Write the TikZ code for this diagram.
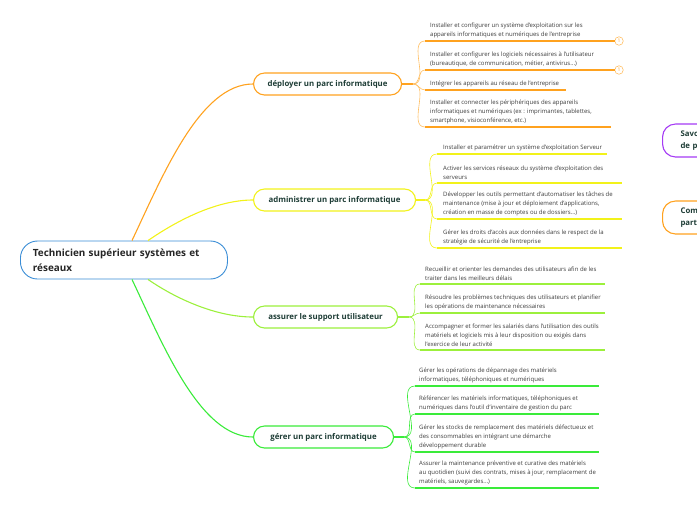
\documentclass[tikz,border=0pt]{standalone}
\usepackage{fontspec}
\setmainfont{Open Sans}
\usepackage{tikz}
\usetikzlibrary{positioning}
\usepackage{xcolor}
\definecolor{ctext}{HTML}{1E3D36}
\definecolor{ltext}{HTML}{3C3C3C}
\definecolor{cblue}{HTML}{3A8DD6}
\definecolor{corange}{HTML}{FFA21F}
\definecolor{cyellow}{HTML}{F2F21A}
\definecolor{clime}{HTML}{9CF03C}
\definecolor{cgreen}{HTML}{3AEB3A}
\definecolor{cpurple}{HTML}{A53BF5}

\begin{document}
\begin{tikzpicture}[
  x=1pt, y=-1pt,
  root/.style={draw=cblue, line width=0.9pt, rounded corners=17pt, fill=white, anchor=west, align=left, text width=182pt, inner xsep=12.5pt, minimum height=38pt, font=\fontsize{9.9}{15}\selectfont\bfseries, text=black!85},
  topic/.style={draw=#1, line width=1.1pt, rounded corners=11pt, fill=white, anchor=west, inner xsep=8pt, minimum height=22pt, font=\fontsize{7.85}{9}\selectfont\bfseries, text=ctext},
  side/.style={draw=#1, line width=1.1pt, rounded corners=13pt, fill=white, anchor=west, align=left, text width=60pt, inner xsep=18pt, minimum height=33pt, font=\fontsize{7.8}{12}\selectfont\bfseries, text=ctext},
  leaf/.style={anchor=south west, align=left, inner xsep=5pt, inner ysep=3pt, font=\fontsize{6}{9}\selectfont, text=ltext},
  uline/.style={draw=#1, line width=1.4pt},
  twig/.style={draw=#1, line width=0.6pt},
  limb/.style={draw=#1, line width=1.1pt},
  tag/.style={draw=corange!80, line width=0.5pt, circle, inner sep=0pt, minimum size=8.5pt, fill=white, font=\fontsize{5}{5}\selectfont, text=corange}
]
\clip (0,0) rectangle (697,520);

\node[root] (root) at (20,260) {Technicien supérieur systèmes et\\réseaux};

\node[topic=corange, minimum width=148pt] (dep) at (253,84) {déployer un parc informatique};
\node[topic=cyellow, minimum width=162pt] (adm) at (253,200) {administrer un parc informatique};
\node[topic=clime, minimum width=144pt] (sup) at (253,317) {assurer le support utilisateur};
\node[topic=cgreen, minimum width=140pt] (ger) at (253,437) {gérer un parc informatique};

\node[side=cpurple] (sav) at (662,140.5) {Savo\\de p};
\node[side=corange] (com) at (662,217.5) {Com\\part};

\draw[limb=corange] ([xshift=112pt]root.north west) .. controls (163,175) and (200,84) .. (dep.west);
\draw[limb=cyellow] ([xshift=128pt]root.north west) .. controls (175,222) and (215,200) .. (adm.west);
\draw[limb=clime] ([xshift=128pt]root.south west) .. controls (175,298) and (215,317) .. (sup.west);
\draw[limb=cgreen] ([xshift=112pt]root.south west) .. controls (163,345) and (200,437) .. (ger.west);

% deployer
\coordinate (fd) at (413,84);
\coordinate (ed3) at (566,0);
\coordinate (ed4) at (611,0);
\node[leaf] (d1) at (425,41) {Installer et configurer un système d'exploitation sur les\\appareils informatiques et numériques de l'entreprise};
\node[leaf] (d2) at (425,70) {Installer et configurer les logiciels nécessaires à l'utilisateur\\(bureautique, de communication, métier, antivirus...)};
\node[leaf] (d3) at (425,90) {Intégrer les appareils au réseau de l'entreprise};
\node[leaf] (d4) at (425,127) {Installer et connecter les périphériques des appareils\\informatiques et numériques (ex : imprimantes, tablettes,\\smartphone, visioconférence, etc.)};
\node[tag] (t1) at (619,41) {1};
\node[tag] (t2) at (619,70) {1};
\draw[limb=corange] (dep.east) -- (fd);
\draw[twig=corange!70] (fd) to[out=0,in=180] (d1.south west);
\draw[twig=corange!70] (fd) to[out=0,in=180] (d2.south west);
\draw[twig=corange!70] (fd) to[out=0,in=180] (d3.south west);
\draw[twig=corange!70] (fd) to[out=0,in=180] (d4.south west);
\draw[uline=corange] (d1.south west) -- (t1.west);
\draw[uline=corange] (d2.south west) -- (t2.west);
\draw[uline=corange] (d3.south west) -- (d3.south west -| ed3);
\draw[uline=corange] (d4.south west) -- (d4.south west -| ed4);

% administrer
\coordinate (fa) at (425,200);
\coordinate (ea1) at (607,0);
\coordinate (ea) at (622,0);
\node[leaf, inner xsep=6pt] (a1) at (437,154) {Installer et paramétrer un système d'exploitation Serveur};
\node[leaf, inner xsep=6pt] (a2) at (437,183) {Activer les services réseaux du système d'exploitation des\\serveurs};
\node[leaf, inner xsep=6pt] (a3) at (437,219) {Développer les outils permettant d'automatiser les tâches de\\maintenance (mise à jour et déploiement d'applications,\\création en masse de comptes ou de dossiers...)};
\node[leaf, inner xsep=6pt] (a4) at (437,248) {Gérer les droits d'accès aux données dans le respect de la\\stratégie de sécurité de l'entreprise};
\draw[limb=cyellow] (adm.east) -- (fa);
\foreach \n in {a1,a2,a3,a4}
  \draw[twig=cyellow] (fa) to[out=0,in=180] (\n.south west);
\draw[uline=cyellow] (a1.south west) -- (a1.south west -| ea1);
\draw[uline=cyellow] (a2.south west) -- (a2.south west -| ea);
\draw[uline=cyellow] (a3.south west) -- (a3.south west -| ea);
\draw[uline=cyellow] (a4.south west) -- (a4.south west -| ea);

% support
\coordinate (fs) at (409,317);
\coordinate (es) at (605,0);
\node[leaf] (s1) at (420,284) {Recueillir et orienter les demandes des utilisateurs afin de les\\traiter dans les meilleurs délais};
\node[leaf] (s2) at (420,313) {Résoudre les problèmes techniques des utilisateurs et planifier\\les opérations de maintenance nécessaires};
\node[leaf] (s3) at (420,350) {Accompagner et former les salariés dans l'utilisation des outils\\matériels et logiciels mis à leur disposition ou exigés dans\\l'exercice de leur activité};
\draw[limb=clime] (sup.east) -- (fs);
\foreach \n in {s1,s2,s3} {
  \draw[twig=clime] (fs) to[out=0,in=180] (\n.south west);
  \draw[uline=clime] (\n.south west) -- (\n.south west -| es);
}

% gerer
\coordinate (fg) at (404,437);
\coordinate (eg) at (599,0);
\node[leaf, inner xsep=4pt] (g1) at (415,386) {Gérer les opérations de dépannage des matériels\\informatiques, téléphoniques et numériques};
\node[leaf, inner xsep=4pt] (g2) at (415,414) {Référencer les matériels informatiques, téléphoniques et\\numériques dans l'outil d'inventaire de gestion du parc};
\node[leaf, inner xsep=4pt] (g3) at (415,452) {Gérer les stocks de remplacement des matériels défectueux et\\des consommables en intégrant une démarche\\développement durable};
\node[leaf, inner xsep=4pt] (g4) at (415,488) {Assurer la maintenance préventive et curative des matériels\\au quotidien (suivi des contrats, mises à jour, remplacement de\\matériels, sauvegardes...)};
\draw[limb=cgreen] (ger.east) -- (fg);
\foreach \n in {g1,g2,g3,g4} {
  \draw[twig=cgreen] (fg) to[out=0,in=180] (\n.south west);
  \draw[uline=cgreen] (\n.south west) -- (\n.south west -| eg);
}
\end{tikzpicture}
\end{document}
